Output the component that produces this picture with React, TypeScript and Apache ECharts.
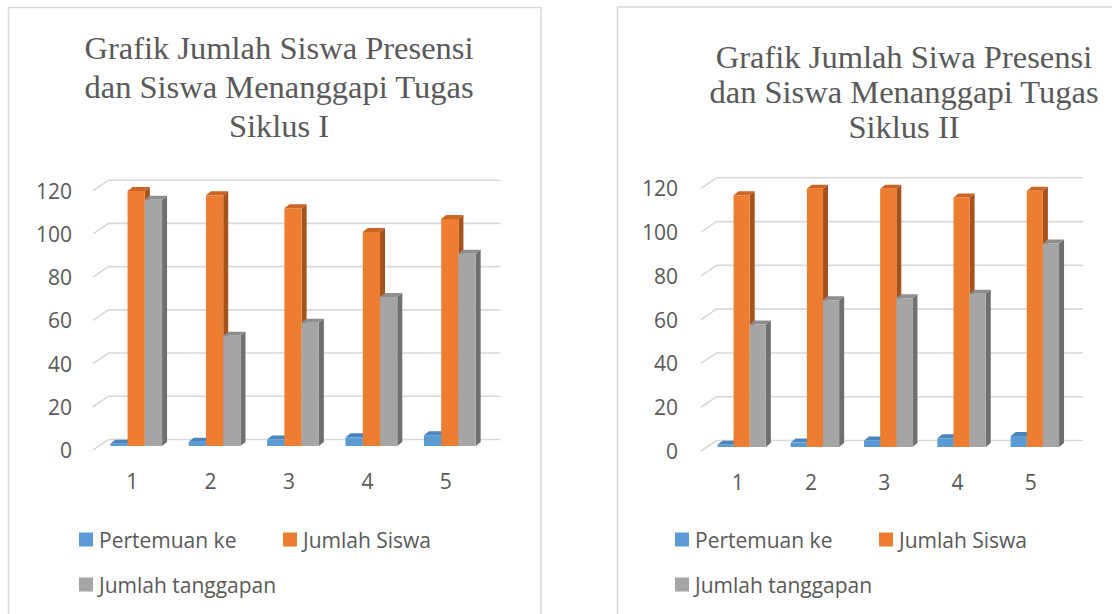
import React, { useEffect, useRef } from "react";
import * as echarts from "echarts";

const CATEGORIES = ["1", "2", "3", "4", "5"];
const Y_TICKS = [0, 20, 40, 60, 80, 100, 120];
const SERIES_NAMES = ["Pertemuan ke", "Jumlah Siswa", "Jumlah tanggapan"];

const S1_PERTEMUAN = [1, 2, 3, 4, 5];
const S1_JUMLAH_SISWA = [118, 116, 110, 99, 105];
const S1_TANGGAPAN = [114, 51, 57, 69, 89];

const S2_PERTEMUAN = [1, 2, 3, 4, 5];
const S2_JUMLAH_SISWA = [115, 118, 118, 114, 117];
const S2_TANGGAPAN = [56, 67, 68, 70, 93];

const TITLE_1 = "Grafik Jumlah Siswa Presensi\ndan Siswa Menanggapi Tugas\nSiklus I";
const TITLE_2 = "Grafik Jumlah Siwa Presensi\ndan Siswa Menanggapi Tugas\nSiklus II";

const FRONT = ["#5B9BD5", "#ED7D31", "#A5A5A5"];
const TOP = ["#4A85BD", "#CC6424", "#8E8E8E"];
const SIDE = ["#3E6E9C", "#A5521C", "#6F6F6F"];

const TEXT_COLOR = "#595959";
const GRID_COLOR = "#D9D9D9";

// 3D offsets
const WALL_DX = 15.5;
const WALL_DY = -10.5;
const BAR_DX = 4;
const BAR_DY = -4;
const DEPTH_DX = 5;
const DEPTH_DY = -4;
const BAR_FRAC = 0.22;

function wallRender(params: any, api: any) {
  const v = api.value(1);
  const y = api.coord([0, v])[1];
  const cs = params.coordSys;
  const x0 = cs.x;
  const w = cs.width;
  return {
    type: "polyline",
    shape: {
      points: [
        [x0, y],
        [x0 + WALL_DX, y + WALL_DY],
        [x0 + w + WALL_DX, y + WALL_DY],
      ],
    },
    style: { stroke: GRID_COLOR, lineWidth: 1.6, fill: "none" },
  };
}

function barRender(k: number) {
  return (params: any, api: any) => {
    const i = api.value(0);
    const v = api.value(1);
    const base = api.coord([i, 0]);
    const top = api.coord([i, v]);
    const band = api.size([1, 0])[0];
    const bw = band * BAR_FRAC;
    const x = base[0] - 1.5 * bw + k * bw + BAR_DX;
    const yb = base[1] + BAR_DY;
    const yt = top[1] + BAR_DY;
    return {
      type: "group",
      children: [
        {
          type: "polygon",
          shape: {
            points: [
              [x + bw, yb],
              [x + bw + DEPTH_DX, yb + DEPTH_DY],
              [x + bw + DEPTH_DX, yt + DEPTH_DY],
              [x + bw, yt],
            ],
          },
          style: { fill: SIDE[k] },
        },
        {
          type: "polygon",
          shape: {
            points: [
              [x, yt],
              [x + bw, yt],
              [x + bw + DEPTH_DX, yt + DEPTH_DY],
              [x + DEPTH_DX, yt + DEPTH_DY],
            ],
          },
          style: { fill: TOP[k] },
        },
        {
          type: "rect",
          shape: { x, y: yt, width: bw, height: Math.max(0, yb - yt) },
          style: { fill: FRONT[k] },
        },
      ],
    };
  };
}

function toPairs(arr: number[]) {
  return arr.map((v, i) => [i, v]);
}

export default function App() {
  const ref = useRef<HTMLDivElement>(null);

  useEffect(() => {
    if (!ref.current) return;
    const chart = echarts.init(ref.current, null, { renderer: "svg" });

    const grids = [
      { left: 93, top: 190.7, width: 392, height: 259.3 },
      { left: 701, top: 188.3, width: 366.5, height: 262.7 },
    ];
    const datasets = [
      [S1_PERTEMUAN, S1_JUMLAH_SISWA, S1_TANGGAPAN],
      [S2_PERTEMUAN, S2_JUMLAH_SISWA, S2_TANGGAPAN],
    ];

    const series: any[] = [];
    datasets.forEach((ds, g) => {
      series.push({
        type: "custom",
        name: "_wall" + g,
        xAxisIndex: g,
        yAxisIndex: g,
        renderItem: wallRender,
        data: Y_TICKS.map((v) => [0, v]),
        clip: false,
        silent: true,
        z: 1,
      });
      ds.forEach((arr, k) => {
        series.push({
          type: "custom",
          name: SERIES_NAMES[k],
          xAxisIndex: g,
          yAxisIndex: g,
          renderItem: barRender(k),
          data: toPairs(arr),
          clip: false,
          itemStyle: { color: FRONT[k] },
          z: 2 + k,
        });
      });
    });

    const legendPos = [
      [
        [79, 529],
        [283, 529],
        [79, 574],
      ],
      [
        [675, 529],
        [879, 529],
        [675, 574],
      ],
    ];
    const legends: any[] = [];
    legendPos.forEach((chartPos) => {
      chartPos.forEach((p, k) => {
        legends.push({
          data: [SERIES_NAMES[k]],
          left: p[0],
          top: p[1],
          padding: 0,
          itemWidth: 14,
          itemHeight: 14,
          itemGap: 0,
          icon: "rect",
          selectedMode: false,
          textStyle: {
            fontFamily: "Open Sans",
            fontSize: 21,
            color: TEXT_COLOR,
            padding: [0, 0, 0, 1],
          },
        });
      });
    });

    const axisLabelStyle = {
      fontFamily: "Open Sans",
      fontSize: 21,
      color: TEXT_COLOR,
    };

    chart.setOption({
      animation: false,
      backgroundColor: "#ffffff",
      title: [
        {
          text: TITLE_1,
          left: 274,
          top: 23,
          textAlign: "center",
          textStyle: {
            fontFamily: "Liberation Serif",
            fontSize: 32.5,
            fontWeight: "normal",
            lineHeight: 39,
            color: TEXT_COLOR,
          },
        },
        {
          text: TITLE_2,
          left: 899,
          top: 34,
          textAlign: "center",
          textStyle: {
            fontFamily: "Liberation Serif",
            fontSize: 32.5,
            fontWeight: "normal",
            lineHeight: 35,
            color: TEXT_COLOR,
          },
        },
      ],
      legend: legends,
      grid: grids,
      xAxis: grids.map((_, g) => ({
        type: "category",
        gridIndex: g,
        data: CATEGORIES,
        axisLine: { show: false },
        axisTick: { show: false },
        splitLine: { show: false },
        axisLabel: { ...axisLabelStyle, margin: 20 },
      })),
      yAxis: grids.map((_, g) => ({
        type: "value",
        gridIndex: g,
        min: 0,
        max: 120,
        interval: 20,
        axisLine: { show: false },
        axisTick: { show: false },
        splitLine: { show: false },
        axisLabel: { ...axisLabelStyle, margin: g === 0 ? 21 : 23, padding: [3, 0, 0, 0] },
      })),
      graphic: [
        {
          type: "rect",
          shape: { x: 8.5, y: 7.5, width: 532.5, height: 700 },
          style: { fill: "none", stroke: GRID_COLOR, lineWidth: 1.5 },
          silent: true,
          z: -1,
        },
        {
          type: "rect",
          shape: { x: 617.5, y: 7, width: 600, height: 700 },
          style: { fill: "none", stroke: GRID_COLOR, lineWidth: 1.5 },
          silent: true,
          z: -1,
        },
      ],
      series,
    });

    return () => chart.dispose();
  }, []);

  return (
    <div
      ref={ref}
      style={{ position: "fixed", left: 0, top: 0, width: 1112, height: 614, background: "#fff" }}
    />
  );
}
